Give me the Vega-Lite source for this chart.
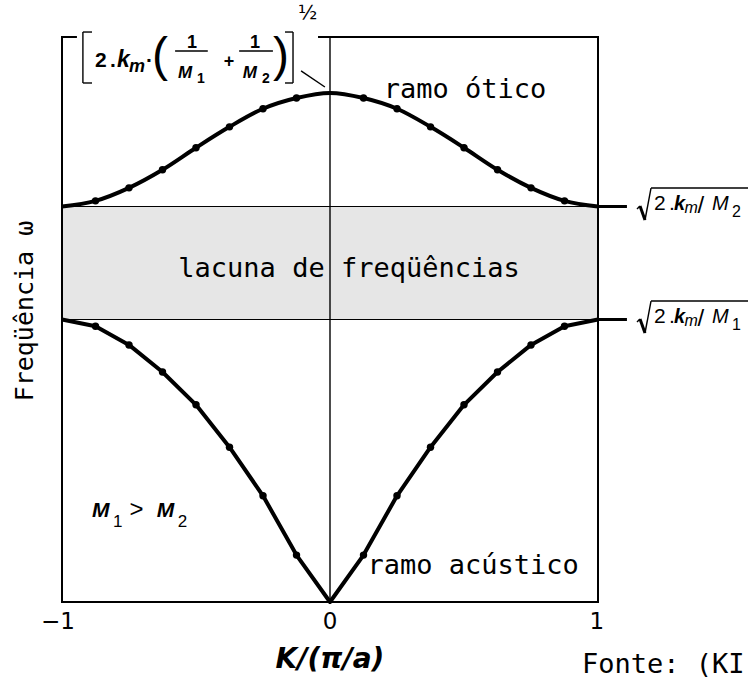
{
  "$schema": "https://vega.github.io/schema/vega-lite/v6.json",
  "width": 536,
  "height": 565,
  "autosize": {"type": "none"},
  "padding": {"left": 62, "top": 37, "right": 150, "bottom": 82},
  "background": "white",
  "config": {"view": {"stroke": null}},
  "datasets": {
    "curvas": [
      {"ramo": "otico", "K": -1, "w": 7.0},
      {"ramo": "otico", "K": -0.875, "w": 7.10},
      {"ramo": "otico", "K": -0.75, "w": 7.33},
      {"ramo": "otico", "K": -0.625, "w": 7.65},
      {"ramo": "otico", "K": -0.5, "w": 8.04},
      {"ramo": "otico", "K": -0.375, "w": 8.41},
      {"ramo": "otico", "K": -0.25, "w": 8.73},
      {"ramo": "otico", "K": -0.125, "w": 8.92},
      {"ramo": "otico", "K": 0, "w": 9.01},
      {"ramo": "otico", "K": 0.125, "w": 8.92},
      {"ramo": "otico", "K": 0.25, "w": 8.73},
      {"ramo": "otico", "K": 0.375, "w": 8.41},
      {"ramo": "otico", "K": 0.5, "w": 8.04},
      {"ramo": "otico", "K": 0.625, "w": 7.65},
      {"ramo": "otico", "K": 0.75, "w": 7.33},
      {"ramo": "otico", "K": 0.875, "w": 7.10},
      {"ramo": "otico", "K": 1, "w": 7.0},
      {"ramo": "acustico", "K": -1, "w": 5.0},
      {"ramo": "acustico", "K": -0.875, "w": 4.88},
      {"ramo": "acustico", "K": -0.75, "w": 4.55},
      {"ramo": "acustico", "K": -0.625, "w": 4.07},
      {"ramo": "acustico", "K": -0.5, "w": 3.49},
      {"ramo": "acustico", "K": -0.375, "w": 2.74},
      {"ramo": "acustico", "K": -0.25, "w": 1.88},
      {"ramo": "acustico", "K": -0.125, "w": 0.83},
      {"ramo": "acustico", "K": 0, "w": 0},
      {"ramo": "acustico", "K": 0.125, "w": 0.83},
      {"ramo": "acustico", "K": 0.25, "w": 1.88},
      {"ramo": "acustico", "K": 0.375, "w": 2.74},
      {"ramo": "acustico", "K": 0.5, "w": 3.49},
      {"ramo": "acustico", "K": 0.625, "w": 4.07},
      {"ramo": "acustico", "K": 0.75, "w": 4.55},
      {"ramo": "acustico", "K": 0.875, "w": 4.88},
      {"ramo": "acustico", "K": 1, "w": 5.0}
    ],
    "lacuna": [{"K": -1, "K2": 1, "w": 5.0, "w2": 7.0}],
    "moldura": [
      {"K": -1, "w": 0, "K2": -1, "w2": 10},
      {"K": -1, "w": 0, "K2": 1, "w2": 0},
      {"K": 1, "w": 0, "K2": 1, "w2": 10},
      {"K": -1, "w": 10, "K2": -0.948, "w2": 10},
      {"K": -0.041, "w": 10, "K2": 1, "w2": 10}
    ],
    "tracos": [
      {"K": 0, "w": 0, "K2": 0, "w2": 10},
      {"K": -0.108, "w": 9.40, "K2": -0.019, "w2": 9.115},
      {"K": -0.922, "w": 9.186, "K2": -0.922, "w2": 10.088},
      {"K": -0.922, "w": 10.088, "K2": -0.888, "w2": 10.088},
      {"K": -0.922, "w": 9.186, "K2": -0.888, "w2": 9.186},
      {"K": -0.138, "w": 9.186, "K2": -0.138, "w2": 10.088},
      {"K": -0.168, "w": 10.088, "K2": -0.138, "w2": 10.088},
      {"K": -0.168, "w": 9.186, "K2": -0.138, "w2": 9.186},
      {"K": -0.578, "w": 9.752, "K2": -0.456, "w2": 9.752},
      {"K": -0.339, "w": 9.752, "K2": -0.213, "w2": 9.752},
      {"K": 1.1455, "w": 6.956, "K2": 1.1567, "w2": 7.009},
      {"K": 1.1754, "w": 6.761, "K2": 1.1978, "w2": 7.327},
      {"K": 1.1978, "w": 7.327, "K2": 1.56, "w2": 7.327},
      {"K": 1.1455, "w": 4.956, "K2": 1.1567, "w2": 5.009},
      {"K": 1.1754, "w": 4.761, "K2": 1.1978, "w2": 5.327},
      {"K": 1.1978, "w": 5.327, "K2": 1.56, "w2": 5.327}
    ],
    "marcas": [
      {"K": 1, "w": 7.0, "K2": 1.108, "w2": 7.0},
      {"K": 1, "w": 5.0, "K2": 1.108, "w2": 5.0},
      {"K": 1.1567, "w": 7.009, "K2": 1.1754, "w2": 6.761},
      {"K": 1.1567, "w": 5.009, "K2": 1.1754, "w2": 4.761}
    ],
    "ticks": [
      {"K": -1.015, "w": -0.475, "t": "−1"},
      {"K": 0, "w": -0.475, "t": "0"},
      {"K": 0.996, "w": -0.475, "t": "1"}
    ],
    "rotulos": [
      {"K": 0.504, "w": 8.92, "t": "ramo ótico"},
      {"K": 0.071, "w": 5.752, "t": "lacuna de freqüências"},
      {"K": 0.534, "w": 0.496, "t": "ramo acústico"}
    ],
    "fonte": [{"K": 0.94, "w": -1.257, "t": "Fonte: (KI"}],
    "eixo_y": [{"K": -1.138, "w": 5.15, "t": "Freqüência  ω"}],
    "eixo_x": [{"K": 0, "w": -1.168, "t": "K/(π/a)"}],
    "f_reto": [
      {"K": -0.877, "w": 9.469, "t": "2"},
      {"K": -0.821, "w": 9.469, "t": "."},
      {"K": -0.687, "w": 9.469, "t": "·"}
    ],
    "f_k": [{"K": -0.795, "w": 9.469, "t": "k"}],
    "f_m": [{"K": -0.75, "w": 9.381, "t": "m"}],
    "f_num": [
      {"K": -0.515, "w": 9.805, "t": "1"},
      {"K": -0.28, "w": 9.805, "t": "1"}
    ],
    "f_den": [
      {"K": -0.541, "w": 9.274, "t": "M"},
      {"K": -0.299, "w": 9.274, "t": "M"}
    ],
    "f_sub": [
      {"K": -0.496, "w": 9.186, "t": "1"},
      {"K": -0.254, "w": 9.186, "t": "2"}
    ],
    "f_mais": [{"K": -0.377, "w": 9.469, "t": "+"}],
    "f_par": [
      {"K": -0.664, "w": 9.398, "t": "("},
      {"K": -0.213, "w": 9.398, "t": ")"}
    ],
    "f_exp": [{"K": -0.119, "w": 10.31, "t": "½"}],
    "r_reto": [
      {"K": 1.209, "w": 6.938, "t": "2"},
      {"K": 1.265, "w": 6.938, "t": "."},
      {"K": 1.209, "w": 4.938, "t": "2"},
      {"K": 1.265, "w": 4.938, "t": "."}
    ],
    "r_k": [
      {"K": 1.284, "w": 6.938, "t": "k"},
      {"K": 1.284, "w": 4.938, "t": "k"}
    ],
    "r_m": [
      {"K": 1.323, "w": 6.885, "t": "m"},
      {"K": 1.323, "w": 4.885, "t": "m"}
    ],
    "r_barra": [
      {"K": 1.371, "w": 6.885, "t": "/"},
      {"K": 1.371, "w": 4.885, "t": "/"}
    ],
    "r_M": [
      {"K": 1.425, "w": 6.938, "t": "M"},
      {"K": 1.425, "w": 4.938, "t": "M"}
    ],
    "r_sub": [
      {"K": 1.5, "w": 6.814, "t": "2"},
      {"K": 1.5, "w": 4.814, "t": "1"}
    ],
    "massas_M": [
      {"K": -0.888, "w": 1.504, "t": "M"},
      {"K": -0.646, "w": 1.504, "t": "M"}
    ],
    "massas_sub": [
      {"K": -0.81, "w": 1.327, "t": "1"},
      {"K": -0.568, "w": 1.327, "t": "2"}
    ],
    "massas_op": [{"K": -0.748, "w": 1.504, "t": ">"}]
  },
  "encoding": {
    "x": {
      "field": "K",
      "type": "quantitative",
      "scale": {"domain": [-1, 1], "nice": false, "zero": false},
      "axis": null
    },
    "y": {
      "field": "w",
      "type": "quantitative",
      "scale": {"domain": [0, 10], "nice": false, "zero": false},
      "axis": null
    }
  },
  "layer": [
    {
      "data": {"name": "lacuna"},
      "mark": {"type": "rect", "fill": "#e6e6e6", "stroke": "black", "strokeWidth": 1.2},
      "encoding": {"x2": {"field": "K2"}, "y2": {"field": "w2"}}
    },
    {
      "data": {"name": "tracos"},
      "mark": {"type": "rule", "color": "black", "strokeWidth": 1.4},
      "encoding": {"x2": {"field": "K2"}, "y2": {"field": "w2"}}
    },
    {
      "data": {"name": "moldura"},
      "mark": {"type": "rule", "color": "black", "strokeWidth": 2, "strokeCap": "square"},
      "encoding": {"x2": {"field": "K2"}, "y2": {"field": "w2"}}
    },
    {
      "data": {"name": "marcas"},
      "mark": {"type": "rule", "color": "black", "strokeWidth": 3},
      "encoding": {"x2": {"field": "K2"}, "y2": {"field": "w2"}}
    },
    {
      "data": {"name": "curvas"},
      "transform": [{"filter": "datum.ramo == 'otico'"}],
      "mark": {"type": "line", "color": "black", "strokeWidth": 4, "interpolate": "monotone"},
      "encoding": {}
    },
    {
      "data": {"name": "curvas"},
      "transform": [{"filter": "datum.ramo == 'acustico'"}],
      "mark": {"type": "line", "color": "black", "strokeWidth": 4, "strokeJoin": "round"},
      "encoding": {}
    },
    {
      "data": {"name": "curvas"},
      "transform": [{"filter": "abs(datum.K) > 0.01 && abs(datum.K) < 0.99"}],
      "mark": {"type": "point", "filled": true, "color": "black", "opacity": 1, "size": 55},
      "encoding": {}
    },
    {
      "data": {"name": "ticks"},
      "mark": {"type": "text", "font": "DejaVu Sans", "fontSize": 23, "align": "center", "baseline": "alphabetic", "color": "black"},
      "encoding": {"text": {"field": "t"}}
    },
    {
      "data": {"name": "rotulos"},
      "mark": {"type": "text", "font": "DejaVu Sans Mono", "fontSize": 27, "align": "center", "baseline": "alphabetic", "color": "black"},
      "encoding": {"text": {"field": "t"}}
    },
    {
      "data": {"name": "fonte"},
      "mark": {"type": "text", "font": "DejaVu Sans Mono", "fontSize": 27, "align": "left", "baseline": "alphabetic", "color": "black"},
      "encoding": {"text": {"field": "t"}}
    },
    {
      "data": {"name": "eixo_y"},
      "mark": {"type": "text", "font": "DejaVu Sans Mono", "fontSize": 25, "angle": 270, "align": "center", "baseline": "middle", "color": "black"},
      "encoding": {"text": {"field": "t"}}
    },
    {
      "data": {"name": "eixo_x"},
      "mark": {"type": "text", "font": "DejaVu Sans", "fontSize": 28, "fontStyle": "italic", "fontWeight": "bold", "align": "center", "baseline": "alphabetic", "color": "black"},
      "encoding": {"text": {"field": "t"}}
    },
    {
      "data": {"name": "f_reto"},
      "mark": {"type": "text", "font": "Liberation Sans", "fontSize": 21, "fontWeight": "bold", "align": "left", "baseline": "alphabetic", "color": "black"},
      "encoding": {"text": {"field": "t"}}
    },
    {
      "data": {"name": "f_k"},
      "mark": {"type": "text", "font": "Liberation Sans", "fontSize": 23, "fontWeight": "bold", "fontStyle": "italic", "align": "left", "baseline": "alphabetic", "color": "black"},
      "encoding": {"text": {"field": "t"}}
    },
    {
      "data": {"name": "f_m"},
      "mark": {"type": "text", "font": "Liberation Sans", "fontSize": 18, "fontWeight": "bold", "fontStyle": "italic", "align": "left", "baseline": "alphabetic", "color": "black"},
      "encoding": {"text": {"field": "t"}}
    },
    {
      "data": {"name": "f_num"},
      "mark": {"type": "text", "font": "Liberation Sans", "fontSize": 18, "fontWeight": "bold", "align": "center", "baseline": "alphabetic", "color": "black"},
      "encoding": {"text": {"field": "t"}}
    },
    {
      "data": {"name": "f_den"},
      "mark": {"type": "text", "font": "Liberation Sans", "fontSize": 17, "fontWeight": "bold", "fontStyle": "italic", "align": "center", "baseline": "alphabetic", "color": "black"},
      "encoding": {"text": {"field": "t"}}
    },
    {
      "data": {"name": "f_sub"},
      "mark": {"type": "text", "font": "Liberation Sans", "fontSize": 14, "fontWeight": "bold", "align": "left", "baseline": "alphabetic", "color": "black"},
      "encoding": {"text": {"field": "t"}}
    },
    {
      "data": {"name": "f_mais"},
      "mark": {"type": "text", "font": "Liberation Sans", "fontSize": 18, "fontWeight": "bold", "align": "center", "baseline": "alphabetic", "color": "black"},
      "encoding": {"text": {"field": "t"}}
    },
    {
      "data": {"name": "f_par"},
      "mark": {"type": "text", "font": "Liberation Sans", "fontSize": 48, "align": "left", "baseline": "alphabetic", "color": "black"},
      "encoding": {"text": {"field": "t"}}
    },
    {
      "data": {"name": "f_exp"},
      "mark": {"type": "text", "font": "DejaVu Sans", "fontSize": 20, "align": "left", "baseline": "alphabetic", "color": "black"},
      "encoding": {"text": {"field": "t"}}
    },
    {
      "data": {"name": "r_reto"},
      "mark": {"type": "text", "font": "Liberation Sans", "fontSize": 21, "align": "left", "baseline": "alphabetic", "color": "black"},
      "encoding": {"text": {"field": "t"}}
    },
    {
      "data": {"name": "r_k"},
      "mark": {"type": "text", "font": "Liberation Sans", "fontSize": 20, "fontWeight": "bold", "fontStyle": "italic", "align": "left", "baseline": "alphabetic", "color": "black"},
      "encoding": {"text": {"field": "t"}}
    },
    {
      "data": {"name": "r_m"},
      "mark": {"type": "text", "font": "Liberation Sans", "fontSize": 16, "fontStyle": "italic", "align": "left", "baseline": "alphabetic", "color": "black"},
      "encoding": {"text": {"field": "t"}}
    },
    {
      "data": {"name": "r_barra"},
      "mark": {"type": "text", "font": "Liberation Sans", "fontSize": 24, "align": "left", "baseline": "alphabetic", "color": "black"},
      "encoding": {"text": {"field": "t"}}
    },
    {
      "data": {"name": "r_M"},
      "mark": {"type": "text", "font": "Liberation Sans", "fontSize": 20, "fontStyle": "italic", "align": "left", "baseline": "alphabetic", "color": "black"},
      "encoding": {"text": {"field": "t"}}
    },
    {
      "data": {"name": "r_sub"},
      "mark": {"type": "text", "font": "Liberation Sans", "fontSize": 16, "align": "left", "baseline": "alphabetic", "color": "black"},
      "encoding": {"text": {"field": "t"}}
    },
    {
      "data": {"name": "massas_M"},
      "mark": {"type": "text", "font": "Liberation Sans", "fontSize": 21, "fontWeight": "bold", "fontStyle": "italic", "align": "left", "baseline": "alphabetic", "color": "black"},
      "encoding": {"text": {"field": "t"}}
    },
    {
      "data": {"name": "massas_sub"},
      "mark": {"type": "text", "font": "Liberation Sans", "fontSize": 17, "align": "left", "baseline": "alphabetic", "color": "black"},
      "encoding": {"text": {"field": "t"}}
    },
    {
      "data": {"name": "massas_op"},
      "mark": {"type": "text", "font": "Liberation Sans", "fontSize": 24, "align": "left", "baseline": "alphabetic", "color": "black"},
      "encoding": {"text": {"field": "t"}}
    }
  ]
}
